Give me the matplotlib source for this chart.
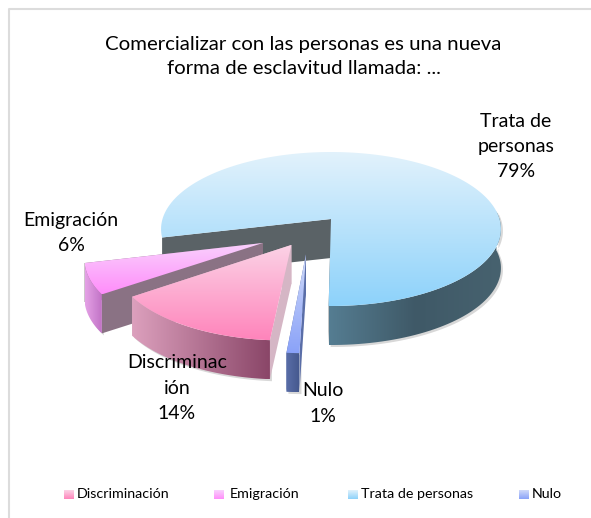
import numpy as np
import matplotlib
matplotlib.use('Agg')
import matplotlib.pyplot as plt
from matplotlib.colors import LinearSegmentedColormap
from matplotlib.patches import Polygon

plt.rcParams['font.family'] = ['Lato', 'DejaVu Sans']

title = 'Comercializar con las personas es una nueva\nforma de esclavitud llamada: ...'
categories = ['Discriminación', 'Emigración', 'Trata de personas', 'Nulo']
values = [14, 6, 79, 1]
labels = ['Discriminac\nión\n14%', 'Emigración\n6%', 'Trata de\npersonas\n79%', 'Nulo\n1%']

# pie position on the canvas, in pixels
first_angle = 265.7
cx, cy = 331, 219
rx, ry = 168.5, 75.7
persp = 0.13
depth = 39

# explosion of every slice on the pie plane
offsets = [(-0.225, -0.328), (-0.388, -0.304), (0, 0), (-0.14, -0.44)]
top_cols = [('#fbd3e6', '#ff84bb'), ('#f9d2fd', '#ff8dfa'), ('#e2f2fc', '#8dd2fa'), ('#d0daf9', '#8aa2f8')]
outer_cols = [('#dca0bd', '#8a4668'), ('#e4a2e6', '#c070c4'), ('#557d92', '#3f5967', '#47626f'), ('#5a6ea8', '#46598f')]
cut_cols = ['#d5b6c5', '#8a7284', '#5a6266', '#5a6ea8']
label_pos = [(177, 388), (71, 233), (516, 146.5), (323, 403.5)]
legend_x = [64, 214, 348, 519]
legend_text_x = [77, 230, 361, 532]


def project(u, v):
    w = 1 + persp * v
    return cx + rx * u / w, cy - ry * v / w


def gradient(ax, poly, cols, horizontal=False):
    # fill the polygon with a colour gradient
    cmap = LinearSegmentedColormap.from_list('g', list(cols))
    g = np.linspace(0, 1, 256)
    g = g.reshape(1, -1) if horizontal else g.reshape(-1, 1)
    x0, y0 = poly.min(axis=0)
    x1, y1 = poly.max(axis=0)
    im = ax.imshow(g, cmap=cmap, extent=(x0, x1, y1, y0), origin='upper', aspect='auto', zorder=2)
    patch = Polygon(poly, closed=True, transform=ax.transData, fc='none', ec='none')
    ax.add_patch(patch)
    im.set_clip_path(patch)


def draw_slice(ax, a0, a1, off, top, outer, cut):
    t = np.radians(np.linspace(a0, a1, 160))
    ax_x, ax_y = project(off[0], off[1])
    rim = np.column_stack(project(np.cos(t) + off[0], np.sin(t) + off[1]))
    apex = np.array([ax_x, ax_y])
    drop = np.array([0, depth])

    # only the first stretch of the rim faces the viewer
    vis = np.sin(t) < 0.13
    stop = np.argmax(~vis) if (~vis).any() else len(t)
    front = rim[:stop]

    # soft edge behind the side faces
    ax.add_patch(Polygon(np.vstack([front, front[::-1] + drop]) + [2, 2], closed=True, fc='#d8d8d8', ec='none', zorder=2))

    for corner in [rim[-1], rim[0]]:
        quad = np.array([apex, corner, corner + drop, apex + drop])
        ax.add_patch(Polygon(quad, closed=True, fc=cut, ec='none', zorder=2))

    if len(front) > 1:
        side = np.vstack([front, front[::-1] + drop])
        gradient(ax, side, outer, horizontal=True)

    gradient(ax, np.vstack([apex, rim]), top)


fig = plt.figure(figsize=(5.91, 5.18), dpi=100)
ax = fig.add_axes([0, 0, 1, 1])

# chart frame, it runs off the picture on the right and the bottom
ax.plot([591, 8.5, 8.5], [9, 9, 518], color='#dcdcdc', lw=1.5, zorder=1)

# slice limits, clockwise from the first angle
ends = first_angle - np.cumsum(values) / np.sum(values) * 360
starts = np.concatenate([[first_angle], ends[:-1]])

# painter order: back slice first
for i in [2, 1, 0, 3]:
    draw_slice(ax, ends[i], starts[i], offsets[i], top_cols[i], outer_cols[i], cut_cols[i])

ax.text(303.5, 56.5, title, ha='center', va='center', fontsize=14.7, color='#000000', linespacing=1.45, zorder=5)

for lab, pos in zip(labels, label_pos):
    ax.text(pos[0], pos[1], lab, ha='center', va='center', fontsize=14, color='#000000', linespacing=1.58, zorder=5)

for i in range(len(categories)):
    sq = np.array([[legend_x[i], 490], [legend_x[i] + 10, 490], [legend_x[i] + 10, 499], [legend_x[i], 499]])
    gradient(ax, sq, top_cols[i])
    ax.text(legend_text_x[i], 494, categories[i], ha='left', va='center', fontsize=10.3, color='#000000', zorder=5)

ax.set_xlim(0, 591)
ax.set_ylim(518, 0)
ax.axis('off')
fig.savefig('out.png', dpi=100)
